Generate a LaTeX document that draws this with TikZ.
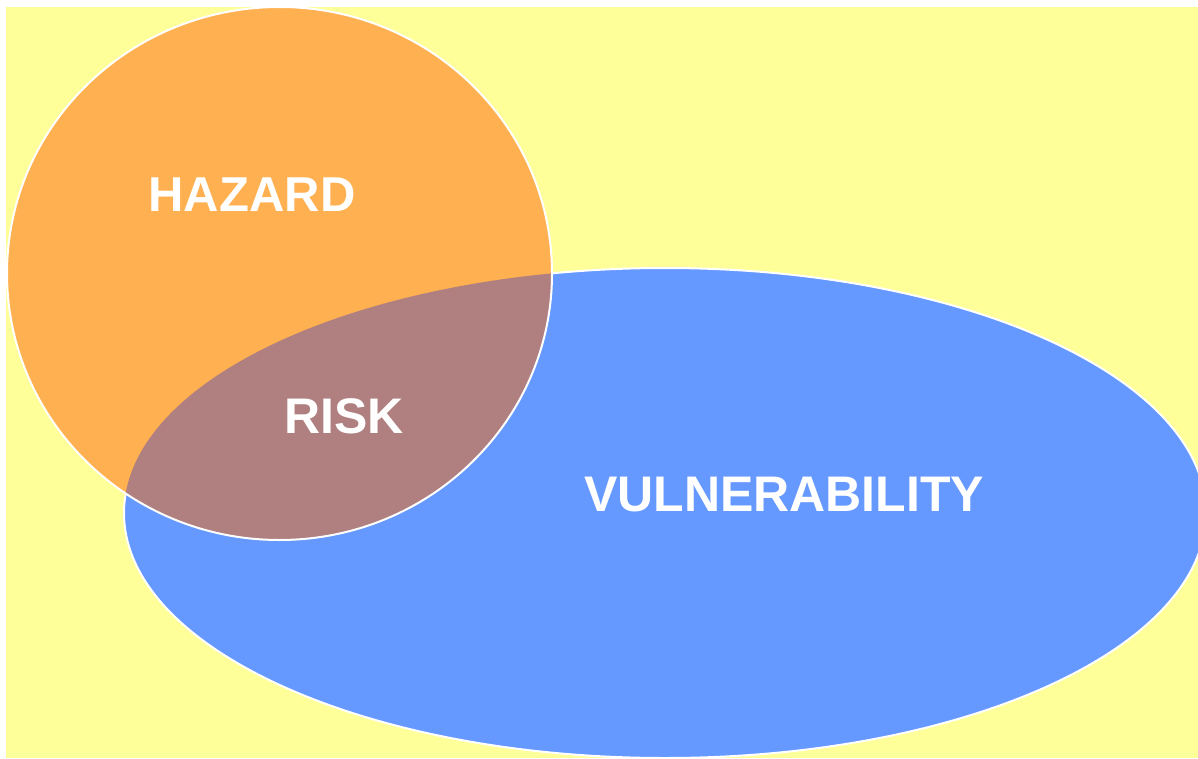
\documentclass[tikz,border=0pt]{standalone}
\usepackage{fontspec}
\setmainfont{Liberation Sans}
\definecolor{bgyellow}{HTML}{FFFF99}
\definecolor{hazorange}{HTML}{FFB050}
\definecolor{vulblue}{HTML}{6699FF}
\definecolor{riskmauve}{HTML}{B07F80}
\tikzset{
  label text/.style={text=white, font=\fontsize{50}{60}\selectfont\bfseries, inner sep=0pt},
  outline/.style={draw=white, line width=2pt}
}
\begin{document}
\begin{tikzpicture}[x=1pt, y=-1pt]
  \useasboundingbox (0,0) rectangle (1198,759);
  \clip (0,0) rectangle (1198,759);
  % background panel
  \fill[bgyellow] (6,7) rectangle (1198,758);
  % vulnerability ellipse
  \fill[vulblue] (665,513) ellipse [x radius=541, y radius=245];
  \draw[outline] (665,513) ellipse [x radius=541, y radius=245];
  % hazard circle
  \fill[hazorange] (279.5,273.5) ellipse [x radius=272.5, y radius=266.5];
  % overlap region
  \begin{scope}
    \clip (665,513) ellipse [x radius=541, y radius=245];
    \fill[riskmauve] (279.5,273.5) ellipse [x radius=272.5, y radius=266.5];
  \end{scope}
  \draw[outline] (279.5,273.5) ellipse [x radius=272.5, y radius=266.5];
  % labels
  \node[label text, font=\fontsize{49}{59}\selectfont\bfseries] (hazard) at (252,195) {HAZARD};
  \node[label text] (risk) at (344,416.5) {RISK};
  \node[label text] (vuln) at (784,494.5) {VULNERABILITY};
\end{tikzpicture}
\end{document}
